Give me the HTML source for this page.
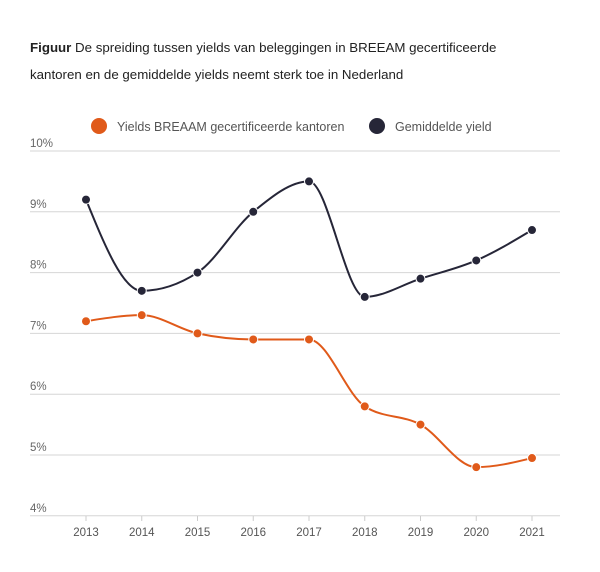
<!DOCTYPE html>
<html><head><meta charset="utf-8"><style>
body{margin:0;background:#fff;width:600px;height:567px;overflow:hidden;font-family:"Liberation Sans",sans-serif}
</style></head><body>
<svg id="s" width="600" height="567" xmlns="http://www.w3.org/2000/svg" font-family="Liberation Sans, sans-serif">
<text x="30" y="52" font-size="13.3" fill="#222"><tspan font-weight="bold">Figuur</tspan> De spreiding tussen yields van beleggingen in BREEAM gecertificeerde</text>
<text x="30" y="79" font-size="13.3" fill="#222">kantoren en de gemiddelde yields neemt sterk toe in Nederland</text>
<circle cx="99" cy="126" r="8" fill="#e05a1a"/>
<text x="117" y="131" font-size="12.5" fill="#555">Yields BREAAM gecertificeerde kantoren</text>
<circle cx="377" cy="126" r="8" fill="#262638"/>
<text x="395" y="131" font-size="12.5" fill="#555">Gemiddelde yield</text>
<g id="g"></g>
</svg>
<script>
var g=document.getElementById('g'),h='';
function Y(v){return 151+(10-v)*60.8}
function X(i){return 86+i*55.75}
for(var v=4;v<=10;v++){var y=Y(v);h+='<line x1="30" x2="560" y1="'+y+'" y2="'+y+'" stroke="#d6d6d6" stroke-width="1"/>';h+='<text x="30" y="'+(y-4)+'" font-size="11.5" fill="#666">'+v+'%</text>';}
for(var i=0;i<9;i++){h+='<line x1="'+X(i)+'" x2="'+X(i)+'" y1="516" y2="521" stroke="#ccc"/><text x="'+X(i)+'" y="536" font-size="11.5" fill="#555" text-anchor="middle">'+(2013+i)+'</text>';}
function path(d,c){var p=d.map(function(v,i){return[X(i),Y(v)]});var n=p.length,sl=[],m=[];
for(var i=0;i<n-1;i++)sl.push((p[i+1][1]-p[i][1])/(p[i+1][0]-p[i][0]));
for(var i=0;i<n;i++){if(i==0||i==n-1){m.push(0);continue;}var a=sl[i-1],b=sl[i];if(a*b<=0)m.push(0);else{var pp=(a+b)/2;m.push(Math.sign(a)*Math.min(2*Math.abs(a),2*Math.abs(b),Math.abs(pp)));}}
m[0]=(3*sl[0]-m[1])/2;m[n-1]=(3*sl[n-2]-m[n-2])/2;
var s='M'+p[0];for(var i=0;i<n-1;i++){var dx=(p[i+1][0]-p[i][0])/3;s+=' C'+(p[i][0]+dx)+','+(p[i][1]+m[i]*dx)+' '+(p[i+1][0]-dx)+','+(p[i+1][1]-m[i+1]*dx)+' '+p[i+1];}
var r='<path d="'+s+'" fill="none" stroke="'+c+'" stroke-width="2"/>';p.forEach(function(q){r+='<circle cx="'+q[0]+'" cy="'+q[1]+'" r="4.5" fill="'+c+'" stroke="#fff" stroke-width="1"/>'});return r;}
h+=path([9.2,7.7,8.0,9.0,9.5,7.6,7.9,8.2,8.7],'#262638');
h+=path([7.2,7.3,7.0,6.9,6.9,5.8,5.5,4.8,4.95],'#e05a1a');
g.innerHTML=h;
</script>
</body></html>
